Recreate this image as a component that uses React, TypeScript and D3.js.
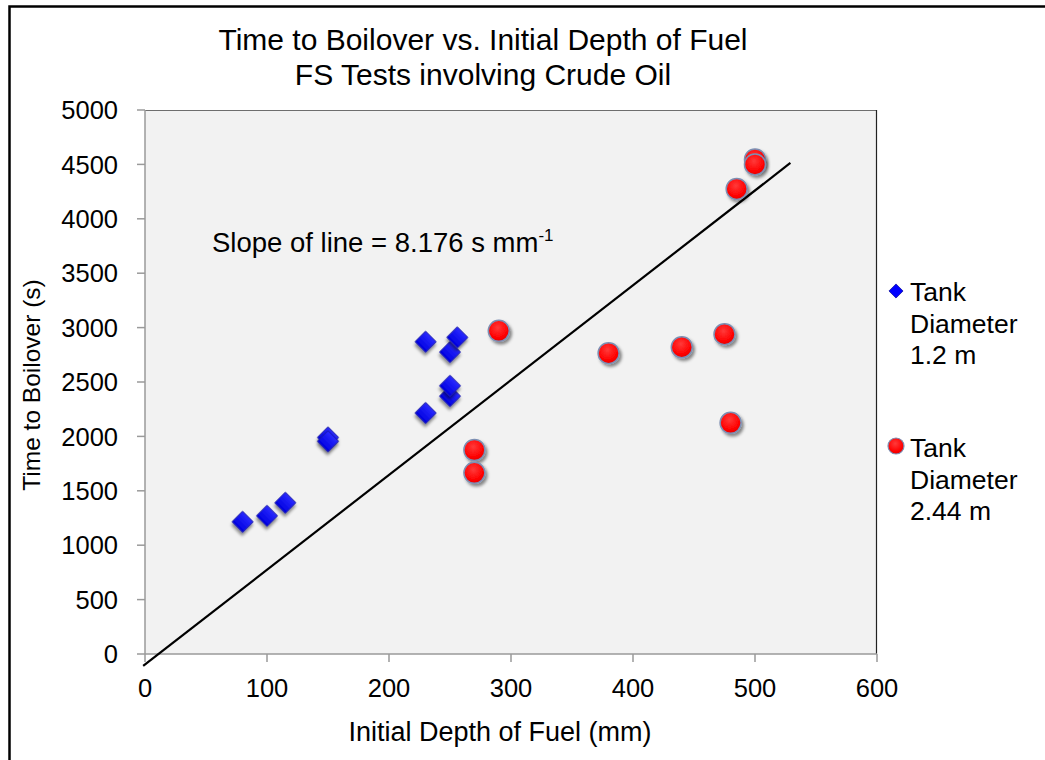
import React from 'react';
import * as d3 from 'd3';

// Tank diameter 1.2 m (blue diamonds)
const smallDepth = [80, 100, 115, 150, 150, 230, 230, 250, 250, 250, 256];
const smallTime = [1215, 1270, 1390, 1990, 1955, 2215, 2870, 2370, 2465, 2775, 2910];

// Tank diameter 2.44 m (red circles)
const largeDepth = [290, 270, 270, 500, 500, 485, 380, 440, 475, 480];
const largeTime = [2970, 1875, 1665, 4545, 4500, 4275, 2765, 2820, 2940, 2125];

// fitted line end points
const fitDepth = [-1.5, 529];
const fitTime = [-110, 4513];

const xTicks = [0, 100, 200, 300, 400, 500, 600];
const yTicks = [0, 500, 1000, 1500, 2000, 2500, 3000, 3500, 4000, 4500, 5000];

const titleLines = ['Time to Boilover vs. Initial Depth of Fuel', 'FS Tests involving Crude Oil'];
const legendLabels = [['Tank', 'Diameter', '1.2 m'], ['Tank', 'Diameter', '2.44 m']];

const W = 1045;
const H = 760;
const font = '"Liberation Sans", Arial, sans-serif';

export default function App() {
  const x = d3.scaleLinear().domain([0, 600]).range([145, 877]);
  const y = d3.scaleLinear().domain([0, 5000]).range([654, 110]);

  const diamond = d3.symbol().type(d3.symbolSquare).size(220)();
  const legendDiamond = d3.symbol().type(d3.symbolSquare).size(100)();

  const line = d3
    .line<number>()
    .x((d, i) => x(fitDepth[i]))
    .y((d, i) => y(fitTime[i]));

  return (
    <svg
      width={W}
      height={H}
      style={{ position: 'absolute', left: 0, top: 0, background: '#fff' }}
      fontFamily={font}
    >
      <defs>
        <filter id="shadow" x="-50%" y="-50%" width="200%" height="200%">
          <feDropShadow dx="2" dy="2.5" stdDeviation="1.5" floodColor="#000" floodOpacity="0.45" />
        </filter>
        <radialGradient id="redGrad" cx="0.45" cy="0.35" r="0.7">
          <stop offset="0%" stopColor="#ff3a3a" />
          <stop offset="70%" stopColor="#ff0000" />
          <stop offset="100%" stopColor="#d80000" />
        </radialGradient>
        <linearGradient id="blueGrad" x1="0" y1="0" x2="0" y2="1">
          <stop offset="0%" stopColor="#2a2aff" />
          <stop offset="100%" stopColor="#0000e0" />
        </linearGradient>
      </defs>

      {/* outer frame */}
      <path d={`M9.5,${H} V6.5 H${W}`} fill="none" stroke="#000" strokeWidth={2.5} />

      {/* title */}
      {titleLines.map((t, i) => (
        <text key={t} x={483} y={50 + i * 35} textAnchor="middle" fontSize={30} fill="#000">
          {t}
        </text>
      ))}

      {/* plot area */}
      <rect x={x(0)} y={y(5000)} width={x(600) - x(0)} height={y(0) - y(5000)} fill="#f2f2f2" />
      <line x1={x(0)} x2={x(600)} y1={y(5000) + 0.5} y2={y(5000) + 0.5} stroke="#6e6e6e" strokeWidth={1.2} />
      <line x1={x(600) - 0.5} x2={x(600) - 0.5} y1={y(5000)} y2={y(0)} stroke="#222" strokeWidth={1.2} />

      {/* y axis */}
      <line x1={x(0)} x2={x(0)} y1={y(5000)} y2={y(0)} stroke="#9a9a9a" strokeWidth={1.5} />
      {yTicks.map(t => (
        <g key={t}>
          <line x1={x(0) - 8} x2={x(0)} y1={y(t)} y2={y(t)} stroke="#9a9a9a" strokeWidth={1.5} />
          <text x={118} y={y(t)} dy="0.36em" textAnchor="end" fontSize={25.5} fill="#000">
            {t}
          </text>
        </g>
      ))}

      {/* x axis */}
      <line x1={x(0)} x2={x(600)} y1={y(0)} y2={y(0)} stroke="#9a9a9a" strokeWidth={1.5} />
      {xTicks.map(t => (
        <g key={t}>
          <line x1={x(t)} x2={x(t)} y1={y(0)} y2={y(0) + 8} stroke="#9a9a9a" strokeWidth={1.5} />
          <text x={x(t)} y={697} textAnchor="middle" fontSize={25.5} fill="#000">
            {t}
          </text>
        </g>
      ))}

      <text x={500} y={741} textAnchor="middle" fontSize={27} fill="#000">
        Initial Depth of Fuel (mm)
      </text>
      <text
        transform={`translate(40,385) rotate(-90)`}
        textAnchor="middle"
        fontSize={24.5}
        fill="#000"
      >
        Time to Boilover (s)
      </text>

      {/* annotation */}
      <text x={212} y={252} fontSize={27.5} fill="#000">
        Slope of line = 8.176 s mm
        <tspan dy={-11} fontSize={17}>
          -1
        </tspan>
      </text>

      {/* fitted line */}
      <path d={line(fitDepth) || ''} fill="none" stroke="#000" strokeWidth={2.2} />

      {/* 1.2 m tanks */}
      {smallDepth.map((d, i) => (
        <path
          key={'s' + i}
          d={diamond}
          transform={`translate(${x(d)},${y(smallTime[i])}) rotate(45)`}
          fill="url(#blueGrad)"
          stroke="#1a1aa8"
          strokeWidth={0.8}
          filter="url(#shadow)"
        />
      ))}

      {/* 2.44 m tanks */}
      {largeDepth.map((d, i) => (
        <circle
          key={'l' + i}
          cx={x(d)}
          cy={y(largeTime[i])}
          r={10.5}
          fill="url(#redGrad)"
          stroke="#7d8fb3"
          strokeWidth={1.5}
          filter="url(#shadow)"
        />
      ))}

      {/* legend */}
      <path
        d={legendDiamond}
        transform="translate(896,291) rotate(45)"
        fill="#0000ff"
        stroke="#1a1aa8"
        strokeWidth={0.8}
      />
      <circle cx={896} cy={446} r={8} fill="url(#redGrad)" stroke="#7d8fb3" strokeWidth={1.2} />
      {legendLabels.map((lines, k) => (
        <text key={k} x={910} fontSize={26.5} fill="#000">
          {lines.map((s, j) => (
            <tspan key={j} x={910} y={(k === 0 ? 301 : 457) + j * 31.5}>
              {s}
            </tspan>
          ))}
        </text>
      ))}
    </svg>
  );
}
